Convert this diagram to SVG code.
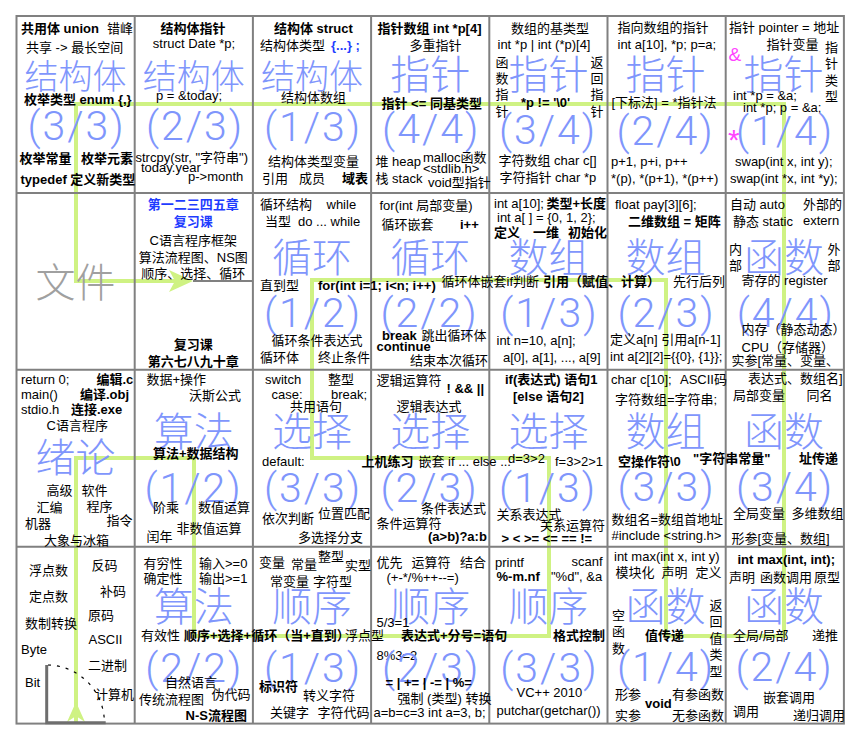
<svg xmlns="http://www.w3.org/2000/svg" width="856" height="738" viewBox="0 0 856 738">
<style>
text{font-family:"Liberation Sans","Noto Sans CJK SC",sans-serif;font-size:13px;fill:#000}
.b{font-weight:bold}
.m{text-anchor:middle}
.big{font-family:"Noto Sans CJK SC",sans-serif;font-size:40px;font-weight:300;fill:#7f96fc;text-anchor:middle}
.big3{font-size:34px}
.fr{font-family:Roboto,"Liberation Sans",sans-serif;font-size:41px;letter-spacing:2px;font-weight:300;fill:#7f96fc;text-anchor:middle}
.gray{fill:#a0a0a0}
.blue{fill:#1e3cff}
.mag{fill:#f4f}
.grid{stroke:#808080;stroke-width:2;fill:none}
.flow{stroke:#cff283;stroke-width:4;fill:none}
.head{fill:#cff283}
</style>
<rect width="856" height="738" fill="#fff"/>
<g id="connectors">
<path class="flow" d="M76,722 V458 H194 V636 H549 V458 H312 V280 H666 V636 H784 V104 H76 V281 H178"/>
<polygon class="head" points="76,702 67,722 76,716 85,722"/>
<polygon class="head" points="193,281 169,270 175,281 169,292"/>
</g>
<g id="grid">
<rect class="grid" x="16.5" y="16" width="827.4" height="707.6" stroke-width="2.5"/>
<path class="grid" d="M134.7,16V723.6M252.9,16V723.6M371.1,16V723.6M489.3,16V723.6M607.5,16V723.6M725.7,16V723.6M16.5,192.9H843.9M16.5,369.8H843.9M16.5,546.7H843.9M193,281H252.9"/>
</g>
<g id="n-r1c1">
<text class="b" x="21" y="33">共用体 union</text>
<text x="107" y="33">错峰</text>
<text x="26" y="52">共享 -&gt; 最长空间</text>
<text class="big big3" x="75.6" y="88.5">结构体</text>
<text class="b" x="24" y="103.5">枚举类型 enum {,}</text>
<text class="fr" x="76.6" y="139.5">(3/3)</text>
<text class="b" x="19.5" y="162.5">枚举常量</text>
<text class="b" x="81" y="162.5">枚举元素</text>
<text class="b" x="20.5" y="183.5">typedef 定义新类型</text>
</g>
<g id="n-r1c2">
<text class="b m" x="193" y="33">结构体指针</text>
<text class="m" x="194" y="48">struct Date *p;</text>
<text class="big big3" x="193.8" y="88.5">结构体</text>
<text class="m" x="189" y="99.5">p = &amp;today;</text>
<text class="fr" x="195" y="139.5">(2/3)</text>
<text x="135.5" y="161.5">strcpy(str, "字符串")</text>
<text x="141" y="171.5">today.year</text>
<text x="188" y="181">p-&gt;month</text>
</g>
<g id="n-r1c3">
<text class="b" x="274" y="33">结构体 struct</text>
<text x="260" y="50">结构体类型</text>
<text class="b blue" x="331" y="50">{...} ;</text>
<text class="big big3" x="312" y="88.5">结构体</text>
<text x="281" y="101.5">结构体数组</text>
<text class="fr" x="313" y="141">(1/3)</text>
<text x="268" y="166">结构体类型变量</text>
<text x="262" y="183">引用</text>
<text x="299" y="183">成员</text>
<text class="b" x="342" y="183">域表</text>
</g>
<g id="n-r1c4">
<text class="b" x="377.5" y="33">指针数组 int *p[4]</text>
<text x="409.5" y="49.5">多重指针</text>
<text class="big" x="430.2" y="88.5">指针</text>
<text class="b" x="381.5" y="107.5">指针 &lt;= 同基类型</text>
<text class="fr" x="431.2" y="143">(4/4)</text>
<text x="375.5" y="166">堆 heap</text>
<text x="423" y="161.5">malloc函数</text>
<text x="423" y="173">&lt;stdlib.h&gt;</text>
<text x="375.5" y="183">栈 stack</text>
<text x="428" y="187">void型指针</text>
</g>
<g id="n-r1c5">
<text x="511" y="32.5">数组的基类型</text>
<text x="497.5" y="49">int *p | int (*p)[4]</text>
<text><tspan x="495.5" y="66.5">函</tspan><tspan x="495.5" y="83">数</tspan><tspan x="495.5" y="99">指</tspan><tspan x="495.5" y="115.5">针</tspan></text>
<text class="big" x="548.4" y="88.5">指针</text>
<text><tspan x="590.5" y="66.5">返</tspan><tspan x="590.5" y="83">回</tspan><tspan x="590.5" y="99">指</tspan><tspan x="590.5" y="115.5">针</tspan></text>
<text class="b" x="521" y="106.5">*p != '\0'</text>
<text class="fr" x="548" y="143.5">(3/4)</text>
<text x="498.5" y="165">字符数组 char c[]</text>
<text x="499.5" y="181.5">字符指针 char *p</text>
</g>
<g id="n-r1c6">
<text x="617.5" y="32">指向数组的指针</text>
<text x="617.5" y="49">int a[10], *p; p=a;</text>
<text class="big" x="665.5" y="88.5">指针</text>
<text x="611.5" y="106.5">[下标法] = *指针法</text>
<text class="fr" x="665.5" y="145">(2/4)</text>
<text x="611" y="166">p+1, p+i, p++</text>
<text x="611" y="182.5">*(p), *(p+1), *(p++)</text>
</g>
<g id="n-r1c7">
<text x="729" y="32">指针 pointer = 地址</text>
<text x="766.5" y="48.5">指针变量</text>
<text class="mag" x="728.5" y="60.5" style="font-size:19px">&amp;</text>
<text><tspan x="825" y="51.5">指</tspan><tspan x="825" y="68">针</tspan><tspan x="825" y="84.5">类</tspan><tspan x="825" y="101">型</tspan></text>
<text class="big" x="783.5" y="88.5">指针</text>
<text x="733" y="99.5">int *p = &amp;a;</text>
<text x="743" y="111.5">int *p; p = &amp;a;</text>
<text class="mag" x="728" y="150" style="font-size:30px">*</text>
<text class="fr" x="785" y="145">(1/4)</text>
<text x="735" y="166">swap(int x, int y);</text>
<text x="730" y="182.5">swap(int *x, int *y);</text>
</g>
<g id="n-r2c1">
<text class="big gray" x="75.6" y="297">文件</text>
</g>
<g id="n-r2c2">
<text class="b m blue" x="193.3" y="208.5">第一二三四五章</text>
<text class="b m blue" x="193.3" y="226">复习课</text>
<text class="m" x="193.3" y="245">C语言程序框架</text>
<text class="m" x="193.3" y="261.5">算法流程图、NS图</text>
<text class="m" x="193.3" y="277.5">顺序、选择、循环</text>
<text class="b m" x="193.3" y="348.5">复习课</text>
<text class="b m" x="193.3" y="366">第六七八九十章</text>
</g>
<g id="n-r2c3">
<text x="260" y="208.5">循环结构</text>
<text x="326.5" y="208.5">while</text>
<text x="265" y="226">当型</text>
<text x="298" y="226">do ... while</text>
<text class="big" x="312" y="272">循环</text>
<text x="260" y="290">直到型</text>
<text class="b" x="318" y="289.5">for(int i=1; i&lt;n; i++)</text>
<text class="fr" x="313" y="327">(1/2)</text>
<text x="271.5" y="345">循环条件表达式</text>
<text x="260" y="361.5">循环体</text>
<text x="318" y="361.5">终止条件</text>
</g>
<g id="n-r2c4">
<text x="379.5" y="210">for(int 局部变量)</text>
<text x="381.5" y="229">循环嵌套</text>
<text class="b" x="460" y="229">i++</text>
<text class="big" x="430.2" y="272">循环</text>
<text x="441.5" y="286">循环体嵌套if判断</text>
<text class="fr" x="429.5" y="327">(2/2)</text>
<text class="b" x="382" y="340">break</text>
<text x="421.5" y="340">跳出循环体</text>
<text class="b" x="376.5" y="351">continue</text>
<text x="410" y="365">结束本次循环</text>
</g>
<g id="n-r2c5">
<text x="494" y="207.5">int a[10];</text>
<text class="b" x="546.5" y="207.5">类型+长度</text>
<text x="497" y="221.5">int a[ ] = {0, 1, 2};</text>
<text class="b" x="494" y="236.5">定义</text>
<text class="b" x="533" y="236.5">一维</text>
<text class="b" x="568" y="236.5">初始化</text>
<text class="big" x="548.4" y="272">数组</text>
<text class="b" x="543" y="286">引用（赋值、计算）</text>
<text class="fr" x="549.4" y="327">(1/3)</text>
<text x="496.5" y="345">int n=10, a[n];</text>
<text x="503" y="361.5">a[0], a[1], ..., a[9]</text>
</g>
<g id="n-r2c6">
<text x="615" y="208.5">float pay[3][6];</text>
<text class="b" x="628" y="226">二维数组 = 矩阵</text>
<text class="big" x="665.5" y="272">数组</text>
<text x="673" y="286">先行后列</text>
<text class="fr" x="666.5" y="327">(2/3)</text>
<text x="610" y="344">定义a[n] 引用a[n-1]</text>
<text x="610" y="361">int a[2][2]={{0}, {1}};</text>
</g>
<g id="n-r2c7">
<text x="730" y="208.5">自动 auto</text>
<text x="803" y="208.5">外部的</text>
<text x="733" y="226">静态 static</text>
<text x="803" y="225">extern</text>
<text><tspan x="729" y="253.5">内</tspan><tspan x="729" y="270">部</tspan></text>
<text class="big" x="784" y="272">函数</text>
<text><tspan x="827.5" y="253.5">外</tspan><tspan x="827.5" y="270">部</tspan></text>
<text x="741.5" y="285">寄存的 register</text>
<text class="fr" x="785.8" y="327">(4/4)</text>
<text x="741.5" y="334">内存（静态动态）</text>
<text x="741.5" y="352">CPU（存储器）</text>
<text x="731.5" y="364.5">实参[常量、变量、</text>
</g>
<g id="n-r3c1">
<text x="21" y="384">return 0;</text>
<text class="b" x="96.5" y="384">编辑.c</text>
<text x="21" y="399">main()</text>
<text class="b" x="80" y="399">编译.obj</text>
<text x="21" y="414">stdio.h</text>
<text class="b" x="71" y="414">连接.exe</text>
<text x="46.5" y="430">C语言程序</text>
<text class="big" x="75.6" y="472">绪论</text>
<text x="46.5" y="495">高级</text>
<text x="81.5" y="495">软件</text>
<text x="36.5" y="511.5">汇编</text>
<text x="86.5" y="511">程序</text>
<text x="25" y="527.5">机器</text>
<text x="106.5" y="525">指令</text>
<text x="44" y="545">大象与冰箱</text>
</g>
<g id="n-r3c2">
<text x="146.5" y="384">数据+操作</text>
<text x="189" y="400">沃斯公式</text>
<text class="big" x="193.8" y="446">算法</text>
<text class="b" x="153" y="457.5">算法+数据结构</text>
<text class="fr" x="193.5" y="501.5">(1/2)</text>
<text x="153" y="511.5">阶乘</text>
<text x="198" y="511.5">数值运算</text>
<text x="176.5" y="532.5">非数值运算</text>
<text x="146.5" y="541">闰年</text>
</g>
<g id="n-r3c3">
<text x="265" y="384">switch</text>
<text x="328" y="384">整型</text>
<text x="271.5" y="399">case:</text>
<text x="331" y="399">break;</text>
<text x="290" y="411">共用语句</text>
<text class="big" x="312" y="446">选择</text>
<text x="262" y="466">default:</text>
<text class="b" x="361.5" y="466">上机练习</text>
<text class="fr" x="313" y="501.5">(3/3)</text>
<text x="262" y="523">依次判断</text>
<text x="318" y="518">位置匹配</text>
<text x="298" y="541.5">多选择分支</text>
</g>
<g id="n-r3c4">
<text x="376.5" y="385">逻辑运算符</text>
<text class="b" x="446.5" y="393">! &amp;&amp; ||</text>
<text x="396.5" y="410.5">逻辑表达式</text>
<text class="big" x="430.2" y="446">选择</text>
<text x="418.5" y="466">嵌套 if ... else ...</text>
<text class="fr" x="429.5" y="501.5">(2/3)</text>
<text x="421" y="512.5">条件表达式</text>
<text x="376.5" y="528">条件运算符</text>
<text class="b" x="428" y="540.5">(a&gt;b)?a:b</text>
</g>
<g id="n-r3c5">
<text class="b" x="505" y="384">if(表达式) 语句1</text>
<text class="b" x="513" y="401">[else 语句2]</text>
<text class="big" x="548.4" y="446">选择</text>
<text x="508" y="463">d=3&gt;2</text>
<text x="555" y="465.5">f=3&gt;2&gt;1</text>
<text class="fr" x="548" y="501.5">(1/3)</text>
<text x="496.5" y="518.5">关系表达式</text>
<text x="540" y="530">关系运算符</text>
<text class="b" x="501.5" y="543">&gt; &lt; &gt;= &lt;= == !=</text>
</g>
<g id="n-r3c6">
<text x="611" y="384">char c[10];</text>
<text x="680" y="384">ASCII码</text>
<text x="615" y="404">字符数组=字符串;</text>
<text class="big" x="665.5" y="446">数组</text>
<text class="b" x="618" y="465.5">空操作符\0</text>
<text class="b" x="693" y="463">"字符串常量"</text>
<text class="fr" x="666.5" y="501">(3/3)</text>
<text x="611.5" y="524">数组名=数组首地址</text>
<text x="611.5" y="539.5">#include &lt;string.h&gt;</text>
</g>
<g id="n-r3c7">
<text x="748" y="382.5">表达式、数组名]</text>
<text x="733" y="400">局部变量</text>
<text x="806.5" y="400">同名</text>
<text class="big" x="784" y="446">函数</text>
<text class="b" x="799" y="463">址传递</text>
<text class="fr" x="785" y="501">(3/4)</text>
<text x="733" y="518">全局变量</text>
<text x="791.5" y="518">多维数组</text>
<text x="731.5" y="542.5">形参[变量、数组]</text>
</g>
<g id="n-r4c1">
<text x="29" y="574.5">浮点数</text>
<text x="91.5" y="569.5">反码</text>
<text x="100" y="595.5">补码</text>
<text x="29" y="601">定点数</text>
<text x="88" y="619.5">原码</text>
<text x="25" y="628">数制转换</text>
<text x="88.5" y="644">ASCII</text>
<text x="21" y="653.5">Byte</text>
<text x="88" y="670">二进制</text>
<text x="25" y="686.5">Bit</text>
<text x="95" y="699">计算机</text>
<path d="M46.7,665 V722.7 H105.7" stroke="#6e6e6e" stroke-width="3" fill="none"/>
<path d="M48,665 A57.7,57.7 0 0 1 104.4,722" stroke="#000" stroke-width="1.2" stroke-dasharray="3 6" fill="none"/>
</g>
<g id="n-r4c2">
<text x="143.5" y="567.5">有穷性</text>
<text x="199" y="567.5">输入&gt;=0</text>
<text x="143.5" y="583">确定性</text>
<text x="199" y="583">输出&gt;=1</text>
<text class="big" x="193.8" y="620.5">算法</text>
<text x="141" y="640">有效性</text>
<text class="b" x="184" y="640">顺序+选择+循环（当+直到）</text>
<text class="fr" x="194.3" y="681.5">(2/2)</text>
<text x="165" y="687">自然语言</text>
<text x="211.5" y="699">伪代码</text>
<text x="139" y="703.5">传统流程图</text>
<text class="b" x="185.5" y="719.5">N-S流程图</text>
</g>
<g id="n-r4c3">
<text x="259" y="567">变量</text>
<text x="291" y="568.5">常量</text>
<text x="318" y="561">整型</text>
<text x="345" y="569.5">实型</text>
<text x="270" y="585.5">常变量</text>
<text x="313" y="586">字符型</text>
<text class="big" x="312" y="620.5">顺序</text>
<text x="345" y="640">浮点型</text>
<text class="fr" x="313" y="681.5">(1/3)</text>
<text class="b" x="259" y="691">标识符</text>
<text x="303" y="699.5">转义字符</text>
<text x="270" y="717">关键字</text>
<text x="317.5" y="717">字符代码</text>
</g>
<g id="n-r4c4">
<text x="376.5" y="567">优先</text>
<text x="411.5" y="567">运算符</text>
<text x="460" y="567">结合</text>
<text x="386.5" y="581.5">(+-*/%++--=)</text>
<text class="big" x="430.2" y="620.5">顺序</text>
<text x="376.5" y="627">5/3=1</text>
<text class="b" x="401" y="640">表达式+分号=语句</text>
<text x="376.5" y="660">8%3=2</text>
<text class="fr" x="431.2" y="681.5">(2/3)</text>
<text class="b" x="385.5" y="687">= | += | -= | %=</text>
<text x="397.5" y="702.5">强制 (类型) 转换</text>
<text x="373.5" y="717">a=b=c=3 int a=3, b;</text>
</g>
<g id="n-r4c5">
<text x="495" y="566.5">printf</text>
<text x="571.5" y="565.5">scanf</text>
<text class="b" x="496.5" y="580.5">%-m.nf</text>
<text x="551" y="580.5">"%d", &amp;a</text>
<text class="big" x="548.4" y="620.5">顺序</text>
<text class="b" x="553" y="640">格式控制</text>
<text class="fr" x="549.4" y="681.5">(3/3)</text>
<text x="516.5" y="697">VC++ 2010</text>
<text x="496.5" y="715">putchar(getchar())</text>
</g>
<g id="n-r4c6">
<text x="614" y="560.5">int max(int x, int y)</text>
<text x="615.5" y="577">模块化</text>
<text x="661.5" y="577">声明</text>
<text x="695.5" y="577">定义</text>
<text><tspan x="612" y="619.5">空</tspan><tspan x="612" y="636">函</tspan><tspan x="612" y="652.5">数</tspan></text>
<text class="big" x="665.5" y="620.5">函数</text>
<text><tspan x="709.5" y="609.5">返</tspan><tspan x="709.5" y="626">回</tspan><tspan x="709.5" y="642.5">值</tspan><tspan x="709.5" y="659">类</tspan><tspan x="709.5" y="675.5">型</tspan></text>
<text class="b" x="645" y="640">值传递</text>
<text class="fr" x="666" y="681">(1/4)</text>
<text x="615" y="699">形参</text>
<text class="b" x="645" y="708">void</text>
<text x="672" y="699">有参函数</text>
<text x="615" y="719.5">实参</text>
<text x="672" y="719.5">无参函数</text>
</g>
<g id="n-r4c7">
<text class="b" x="737.5" y="563.5">int max(int, int);</text>
<text x="729" y="582">声明</text>
<text x="760" y="582">函数调用</text>
<text x="814" y="582">原型</text>
<text class="big" x="784" y="620.5">函数</text>
<text x="733" y="640">全局/局部</text>
<text x="812" y="640">递推</text>
<text class="fr" x="784.5" y="681">(2/4)</text>
<text x="763" y="702">嵌套调用</text>
<text x="733" y="716">调用</text>
<text x="793" y="719.5">递归调用</text>
</g>
</svg>
